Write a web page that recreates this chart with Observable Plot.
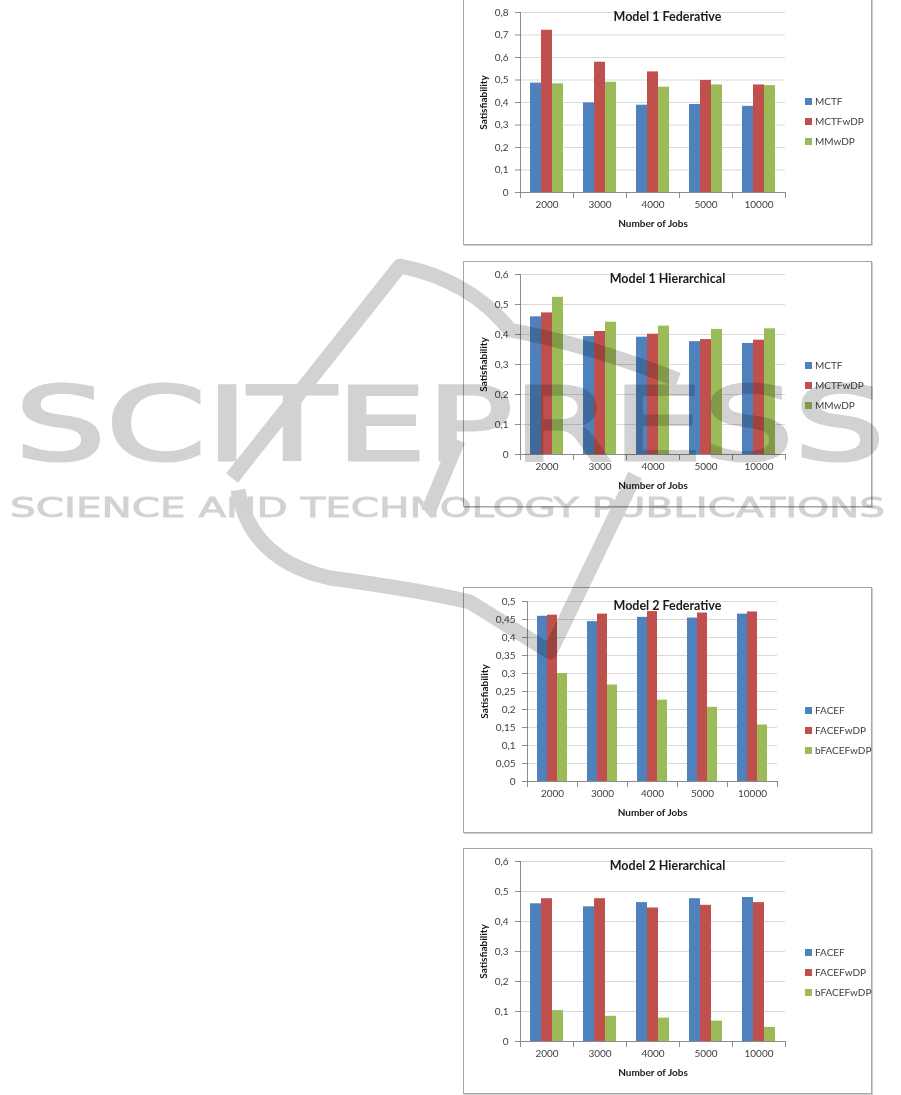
<!DOCTYPE html>
<html><head><meta charset="utf-8">
<script src="https://cdn.jsdelivr.net/npm/d3@7"></script>
<script src="https://cdn.jsdelivr.net/npm/@observablehq/plot@0.6"></script>
<style>
body{margin:0;background:#fff;width:901px;height:1095px;position:relative;overflow:hidden;font-family:Lato,sans-serif}
.box{position:absolute;left:463px;width:407px;height:244px;border:1px solid #a6a6a6;box-shadow:1px 1px 0 #cfcfcf;background:#fff}
.box svg{position:absolute;left:0;top:0}
.title{position:absolute;left:0;width:100%;text-align:center;font-weight:bold;font-size:12.5px;color:#1a1a1a;line-height:14px}
.legend{position:absolute;left:341px;top:0;font-size:10px;color:#404040}
.legend div{position:absolute;left:0;white-space:nowrap;display:flex;align-items:center;height:12px;line-height:12px}
.legend .sw{display:inline-block;width:7px;height:7px;margin-right:3px}
g[aria-label="y-axis label"] text, g[aria-label="fx-axis label"] text{font-weight:bold;fill:#1a1a1a}
#wm{position:absolute;left:0;top:0;pointer-events:none;mix-blend-mode:multiply}
</style></head><body>
<div id="root"></div>
<script>
// ---- data ----
const jobs = ["2000", "3000", "4000", "5000", "10000"];
const model1Series = ["MCTF", "MCTFwDP", "MMwDP"];
const model2Series = ["FACEF", "FACEFwDP", "bFACEFwDP"];
const colors = ["#4F81BD", "#C0504D", "#9BBB59"];

// Model 1 Federative
const m1fedMCTF    = [0.486, 0.398, 0.388, 0.391, 0.383];
const m1fedMCTFwDP = [0.721, 0.579, 0.536, 0.498, 0.478];
const m1fedMMwDP   = [0.483, 0.490, 0.468, 0.478, 0.475];
const m1fedTicks   = [0, 0.1, 0.2, 0.3, 0.4, 0.5, 0.6, 0.7, 0.8];

// Model 1 Hierarchical
const m1hierMCTF    = [0.459, 0.393, 0.391, 0.376, 0.370];
const m1hierMCTFwDP = [0.472, 0.410, 0.401, 0.383, 0.381];
const m1hierMMwDP   = [0.524, 0.441, 0.428, 0.417, 0.419];
const m1hierTicks   = [0, 0.1, 0.2, 0.3, 0.4, 0.5, 0.6];

// Model 2 Federative
const m2fedFACEF     = [0.459, 0.444, 0.456, 0.454, 0.465];
const m2fedFACEFwDP  = [0.462, 0.465, 0.472, 0.468, 0.471];
const m2fedbFACEFwDP = [0.300, 0.268, 0.226, 0.206, 0.157];
const m2fedTicks     = [0, 0.05, 0.1, 0.15, 0.2, 0.25, 0.3, 0.35, 0.4, 0.45, 0.5];

// Model 2 Hierarchical
const m2hierFACEF     = [0.459, 0.449, 0.463, 0.476, 0.480];
const m2hierFACEFwDP  = [0.476, 0.476, 0.445, 0.454, 0.463];
const m2hierbFACEFwDP = [0.103, 0.084, 0.078, 0.068, 0.047];
const m2hierTicks     = [0, 0.1, 0.2, 0.3, 0.4, 0.5, 0.6];

const yTitle = "Satisfiability";
const xTitle = "Number of Jobs";

const charts = [
  {title: "Model 1 Federative", top: -1, series: model1Series, values: [m1fedMCTF, m1fedMCTFwDP, m1fedMMwDP], ticks: m1fedTicks, ml: 55, mt: 12, legendTop: 101},
  {title: "Model 1 Hierarchical", top: 261, series: model1Series, values: [m1hierMCTF, m1hierMCTFwDP, m1hierMMwDP], ticks: m1hierTicks, ml: 55, mt: 12, legendTop: 103},
  {title: "Model 2 Federative", top: 587, series: model2Series, values: [m2fedFACEF, m2fedFACEFwDP, m2fedbFACEFwDP], ticks: m2fedTicks, ml: 61, mt: 13, pw: 254, legendTop: 122},
  {title: "Model 2 Hierarchical", top: 848, series: model2Series, values: [m2hierFACEF, m2hierFACEFwDP, m2hierbFACEFwDP], ticks: m2hierTicks, ml: 55, mt: 12, legendTop: 103}
];

const fmt = d => String(d).replace(".", ",");
const W = 407, H = 244, PH = 180;

const root = document.getElementById("root");
for (const c of charts) {
  const rows = [];
  c.series.forEach((s, i) => c.values[i].forEach((v, j) => rows.push({job: jobs[j], series: s, value: v})));
  const pw = c.pw || 267;
  const svg = Plot.plot({
    width: W, height: H,
    marginLeft: c.ml, marginRight: W - c.ml - pw, marginTop: c.mt, marginBottom: H - c.mt - PH,
    style: {fontFamily: "Lato, sans-serif", fontSize: "10px", color: "#404040", background: "transparent", overflow: "visible"},
    fx: {domain: jobs, padding: 0, label: null},
    x: {domain: c.series, paddingInner: 0, paddingOuter: 0.78, axis: null},
    y: {domain: [0, c.ticks[c.ticks.length - 1]], axis: null},
    color: {domain: c.series, range: colors},
    marks: [
      Plot.gridY(c.ticks, {stroke: "#d9d9d9", strokeOpacity: 1}),
      Plot.barY(rows, {fx: "job", x: "series", y: "value", fill: "series"}),
      Plot.ruleY([0], {stroke: "#8c8c8c"}),
      Plot.frame({anchor: "left", facet: "super", stroke: "#8c8c8c"}),
      Plot.frame({anchor: "left", stroke: "#8c8c8c", insetTop: PH, insetBottom: -5}),
      Plot.frame({anchor: "right", stroke: "#8c8c8c", insetTop: PH, insetBottom: -5}),
      Plot.axisY({ticks: c.ticks, tickFormat: fmt, tickSize: 5, tickPadding: 7, stroke: "#8c8c8c", fill: "#404040",
        label: yTitle, labelAnchor: "center", labelArrow: "none", labelOffset: c.ml - 14}),
      Plot.axisFx({anchor: "bottom", tickSize: 0, tickPadding: 8, fill: "#404040",
        label: xTitle, labelAnchor: "center", labelArrow: "none", labelOffset: 34})
    ]
  });
  const box = document.createElement("div");
  box.className = "box";
  box.style.top = c.top + "px";
  box.appendChild(svg);
  const t = document.createElement("div");
  t.className = "title";
  t.style.top = (c.mt - 2) + "px";
  t.textContent = c.title;
  box.appendChild(t);
  const lg = document.createElement("div");
  lg.className = "legend";
  c.series.forEach((s, i) => {
    const item = document.createElement("div");
    item.style.top = (c.legendTop - 6 + i * 20) + "px";
    const sw = document.createElement("span");
    sw.className = "sw";
    sw.style.background = colors[i];
    item.appendChild(sw);
    item.appendChild(document.createTextNode(s));
    lg.appendChild(item);
  });
  box.appendChild(lg);
  root.appendChild(box);
}

// ---- watermark overlay ----
const ns = "http://www.w3.org/2000/svg";
const wm = document.createElementNS(ns, "svg");
wm.setAttribute("id", "wm");
wm.setAttribute("width", 901);
wm.setAttribute("height", 1095);
wm.innerHTML = `
<g fill="none" stroke="#d2d2d2" stroke-width="15" stroke-linejoin="round" stroke-linecap="butt">
  <path d="M232 478 L400 266 Q470 280 510 330 Q590 345 678 380"/>
  <path d="M238 490 Q250 560 330 578 Q420 590 470 602 L550 652 L635 475"/>
  <path d="M458 440 L428 512"/>
</g>
<text x="15" y="460" textLength="870" lengthAdjust="spacingAndGlyphs" font-family="DejaVu Sans" font-size="102" fill="#d2d2d2" stroke="#d2d2d2" stroke-width="3">SCITEPRESS</text>
<text x="10" y="517" textLength="875" lengthAdjust="spacingAndGlyphs" font-family="DejaVu Sans" font-size="27" fill="#d2d2d2" stroke="#d2d2d2" stroke-width="0.8">SCIENCE AND TECHNOLOGY PUBLICATIONS</text>
`;
document.body.appendChild(wm);
</script>
</body></html>
